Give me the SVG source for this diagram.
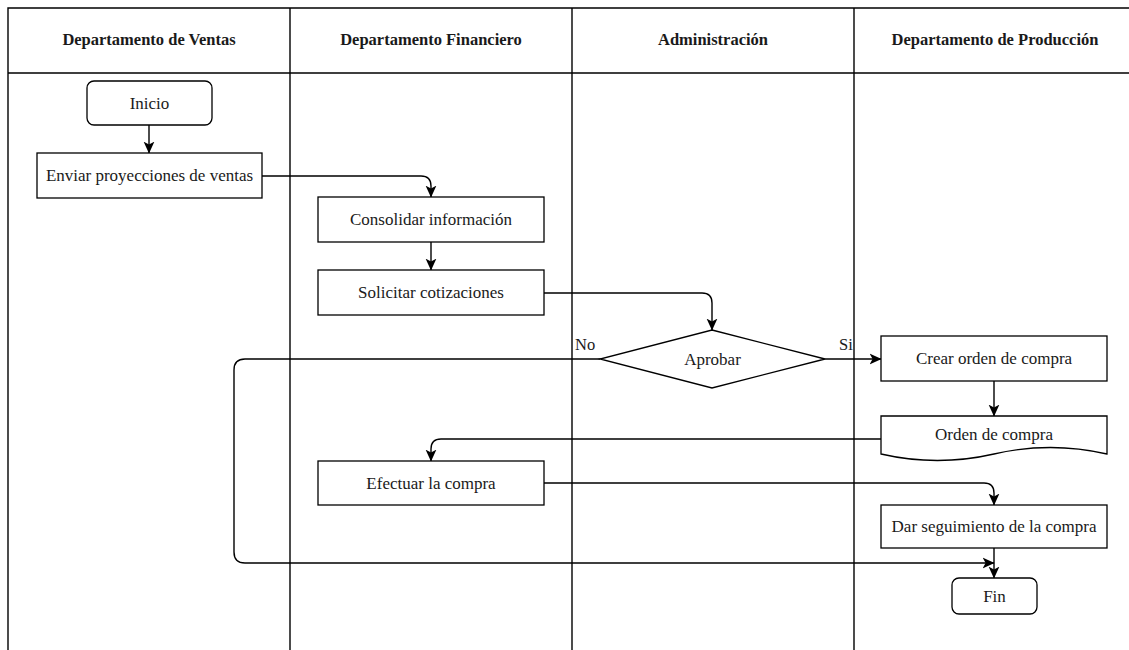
<svg xmlns="http://www.w3.org/2000/svg" width="1129" height="650" viewBox="0 0 1129 650">
  <style>
    .lane { fill: none; stroke: #000; stroke-width: 1.4; }
    .head { font-family: "Liberation Serif", "Times New Roman", serif; font-size: 16.5px; font-weight: bold; fill: #1a1a1a; text-anchor: middle; }
    .box { fill: #fff; stroke: #000; stroke-width: 1.3; }
    .lbl { font-family: "Liberation Serif", "Times New Roman", serif; font-size: 17px; fill: #1a1a1a; text-anchor: middle; dominant-baseline: central; }
    .tag { font-family: "Liberation Serif", "Times New Roman", serif; font-size: 16.5px; fill: #1a1a1a; }
    .edge { fill: none; stroke: #000; stroke-width: 1.4; marker-end: url(#arrow); }
  </style>
  <defs>
    <marker id="arrow" viewBox="0 0 10 10" refX="9.5" refY="5" markerWidth="12" markerHeight="12" markerUnits="userSpaceOnUse" orient="auto">
      <path d="M0,0.5 L10,5 L0,9.5 L2.5,5 Z" fill="#000"/>
    </marker>
  </defs>
  <rect width="1129" height="650" fill="#fff"/>

  <!-- swimlanes -->
  <g id="lanes">
    <path class="lane" d="M8,650 V8 H1129 M8,73 H1129 M290,8 V650 M572,8 V650 M854,8 V650"/>
    <text class="head" x="149" y="45">Departamento de Ventas</text>
    <text class="head" x="431" y="45">Departamento Financiero</text>
    <text class="head" x="713" y="45">Administración</text>
    <text class="head" x="995" y="45">Departamento de Producción</text>
  </g>

  <!-- connectors -->
  <g id="connectors">
    <path class="edge" d="M149,125 V153"/>
    <path class="edge" d="M262,176 H421 Q431,176 431,186 V197"/>
    <path class="edge" d="M431,242 V270"/>
    <path class="edge" d="M544,293 H702 Q712,293 712,303 V330"/>
    <path class="edge" d="M825,359 H881"/>
    <path class="edge" d="M994,381 V416"/>
    <path class="edge" d="M881,439 H441 Q431,439 431,449 V461"/>
    <path class="edge" d="M544,483 H984 Q994,483 994,493 V505"/>
    <path class="edge" d="M994,548 V578"/>
    <path class="edge" d="M600,359 H245 Q234,359 234,370 V552 Q234,563 245,563 H994"/>
    <text class="tag" x="575" y="350">No</text>
    <text class="tag" x="839" y="350">Si</text>
  </g>

  <g id="inicio">
    <rect class="box" x="87" y="81" width="125" height="44" rx="7"/>
    <text class="lbl" x="149.5" y="103">Inicio</text>
  </g>
  <g id="enviar">
    <rect class="box" x="37" y="153" width="225" height="45"/>
    <text class="lbl" x="149.5" y="175.5">Enviar proyecciones de ventas</text>
  </g>
  <g id="consolidar">
    <rect class="box" x="318" y="197" width="226" height="45"/>
    <text class="lbl" x="431" y="219.5">Consolidar información</text>
  </g>
  <g id="solicitar">
    <rect class="box" x="318" y="270" width="226" height="45"/>
    <text class="lbl" x="431" y="292.5">Solicitar cotizaciones</text>
  </g>
  <g id="aprobar">
    <path class="box" d="M712,330 L825,359 L712,388 L600,359 Z"/>
    <text class="lbl" x="712.5" y="359">Aprobar</text>
  </g>
  <g id="crear-orden">
    <rect class="box" x="881" y="336" width="226" height="45"/>
    <text class="lbl" x="994" y="358.5">Crear orden de compra</text>
  </g>
  <g id="orden-compra">
    <path class="box" d="M881,416 H1107 V454 Q1050.5,441 994,454 Q937.5,467 881,454 Z"/>
    <text class="lbl" x="994" y="434.5">Orden de compra</text>
  </g>
  <g id="efectuar">
    <rect class="box" x="318" y="461" width="226" height="44"/>
    <text class="lbl" x="431" y="483">Efectuar la compra</text>
  </g>
  <g id="seguimiento">
    <rect class="box" x="881" y="505" width="226" height="43"/>
    <text class="lbl" x="994" y="526.5">Dar seguimiento de la compra</text>
  </g>
  <g id="fin">
    <rect class="box" x="952" y="578" width="85" height="36" rx="7"/>
    <text class="lbl" x="994.5" y="596">Fin</text>
  </g>
</svg>
